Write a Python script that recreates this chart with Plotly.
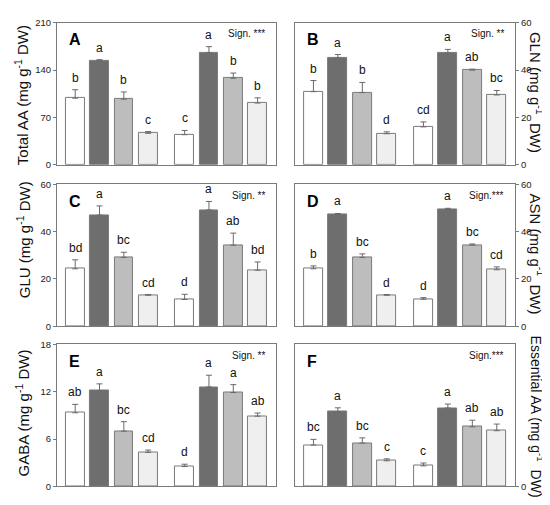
import plotly.graph_objects as go
from plotly.subplots import make_subplots

# bar order: white, dark, mid, light (group 1) then same for group 2
x_pos = [0, 1, 2, 3, 4.5, 5.5, 6.5, 7.5]
bar_colors = ['#ffffff', '#6e6e6e', '#bdbdbd', '#efefef',
              '#ffffff', '#6e6e6e', '#bdbdbd', '#efefef']

total_aa = [98.5, 154, 97, 46.4, 44.4, 166, 128, 91.3]
total_aa_sd = [12.5, 1.5, 10.7, 2.6, 6.3, 8.8, 7.7, 7.7]
total_aa_let = ['b', 'a', 'b', 'c', 'c', 'a', 'b', 'b']

gln = [30.9, 45.2, 30.5, 13.1, 16, 47.2, 40, 29.5]
gln_sd = [4.7, 1.4, 4.3, 0.8, 2.1, 1.6, 0.4, 1.9]
gln_let = ['b', 'a', 'b', 'd', 'cd', 'a', 'ab', 'bc']

glu = [24.3, 47, 29.1, 13.1, 11.3, 49.2, 34.3, 23.7]
glu_sd = [3.8, 3.9, 2.2, 0.3, 2.2, 3.6, 5.1, 3.5]
glu_let = ['bd', 'a', 'bc', 'cd', 'd', 'a', 'ab', 'bd']

asn = [24.3, 47.3, 29.1, 13.1, 11.4, 49.4, 34.3, 23.9]
asn_sd = [1.2, 0.4, 1.5, 0.3, 0.7, 0.5, 0.5, 1.2]
asn_let = ['b', 'a', 'bc', 'd', 'd', 'a', 'bc', 'cd']

gaba = [9.33, 12.1, 7.0, 4.3, 2.5, 12.6, 11.9, 8.9]
gaba_sd = [1.07, 0.9, 1.2, 0.3, 0.3, 1.5, 1.0, 0.4]
gaba_let = ['ab', 'a', 'bc', 'cd', 'd', 'a', 'a', 'ab']

ess_aa = [4.36, 7.9, 4.57, 2.7, 2.16, 8.28, 6.29, 5.88]
ess_aa_sd = [0.6, 0.4, 0.55, 0.2, 0.3, 0.42, 0.7, 0.7]
ess_aa_let = ['bc', 'a', 'bc', 'c', 'c', 'a', 'ab', 'ab']

panels = [
    # (row, col, letter, sign, values, sd, letters, y range, ticks, title)
    (1, 1, 'A', 'Sign. ***', total_aa, total_aa_sd, total_aa_let, 210, [0, 70, 140, 210], 'Total AA (mg g<sup>-1</sup> DW)'),
    (1, 2, 'B', 'Sign. **', gln, gln_sd, gln_let, 60, [0, 20, 40, 60], 'GLN (mg g<sup>-1</sup>  DW)'),
    (2, 1, 'C', 'Sign. **', glu, glu_sd, glu_let, 60, [0, 20, 40, 60], 'GLU (mg g<sup>-1</sup> DW)'),
    (2, 2, 'D', 'Sign.***', asn, asn_sd, asn_let, 60, [0, 20, 40, 60], 'ASN (mg g<sup>-1</sup>  DW)'),
    (3, 1, 'E', 'Sign. **', gaba, gaba_sd, gaba_let, 18, [0, 6, 12, 18], 'GABA (mg g<sup>-1</sup> DW)'),
    (3, 2, 'F', 'Sign.***', ess_aa, ess_aa_sd, ess_aa_let, 15, [0], 'Essential AA (mg g<sup>-1</sup>  DW)'),
]

x_dom = {1: [0.089, 0.487], 2: [0.522, 0.922]}
y_dom = {1: [0.695, 0.982], 2: [0.368, 0.655], 3: [0.044, 0.331]}
title_pos = {  # paper x, paper y, font size of axis title
    'A': (0.024, 0.836, 15), 'B': (0.962, 0.842, 15), 'C': (0.028, 0.543, 15), 'D': (0.962, 0.515, 15),
    'E': (0.026, 0.192, 15), 'F': (0.961, 0.186, 14),
}

font = 'Liberation Sans, Arial, sans-serif'
fig = make_subplots(rows=3, cols=2)
edge = '#7a7a7a'

for i, (r, c, lab, sign, vals, sd, lets, ymax, ticks, title) in enumerate(panels):
    fig.add_trace(go.Bar(
        x=x_pos, y=vals, width=0.77,
        marker=dict(color=bar_colors, line=dict(color=edge, width=1)),
        error_y=dict(type='data', array=sd, arrayminus=[0] * len(sd), symmetric=False,
                     color='#6a6a6a', thickness=1, width=3),
        showlegend=False,
    ), row=r, col=c)
    n = '' if i == 0 else str(i + 1)
    fig.layout['xaxis' + n].update(domain=x_dom[c], range=[-0.75, 8.25], showticklabels=False,
                                   ticks='', showline=True, linecolor=edge, mirror=True,
                                   showgrid=False, zeroline=False)
    fig.layout['yaxis' + n].update(domain=y_dom[r], range=[0, ymax], tickvals=ticks,
                                   side='left' if c == 1 else 'right',
                                   ticks='outside', ticklen=3, tickcolor=edge,
                                   tickfont=dict(size=9.5, color='#222'),
                                   showline=True, linecolor=edge, mirror=True,
                                   showgrid=False, zeroline=False)
    xr = 'x' + n
    yr = 'y' + n
    for xv, v, s, t in zip(x_pos, vals, sd, lets):
        fig.add_annotation(x=xv, y=v + s, xref=xr, yref=yr, text=t, showarrow=False,
                           yanchor='bottom', yshift=3, font=dict(size=12, color='#111', family=font))
    fig.add_annotation(x=0.045, y=0.88, xref=xr + ' domain', yref=yr + ' domain', text='<b>' + lab + '</b>',
                       showarrow=False, xanchor='left', yanchor='middle', font=dict(size=16, color='#000', family=font))
    fig.add_annotation(x=0.96, y=0.925, xref=xr + ' domain', yref=yr + ' domain', text=sign,
                       showarrow=False, xanchor='right', yanchor='middle', font=dict(size=10, color='#111', family=font))
    tx, ty, ts = title_pos[lab]
    fig.add_annotation(x=tx, y=ty, xref='paper', yref='paper', text=title, showarrow=False,
                       textangle=-90 if c == 1 else 90, xanchor='center', yanchor='middle',
                       font=dict(size=ts, color='#111', family=font))

fig.update_layout(width=550, height=505, margin=dict(l=0, r=0, t=0, b=0),
                  plot_bgcolor='white', paper_bgcolor='white', bargap=0,
                  font=dict(family=font))
fig.write_html("out.html")
